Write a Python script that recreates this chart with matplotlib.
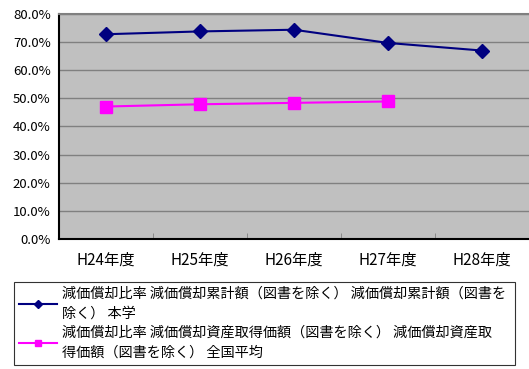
import numpy as np
import matplotlib

matplotlib.use('Agg')
import matplotlib.pyplot as plt

plt.rcParams['font.family'] = ['Noto Sans CJK JP', 'DejaVu Sans']

categories = ['H24年度', 'H25年度', 'H26年度', 'H27年度', 'H28年度']
own_rate = [72.8, 73.8, 74.4, 69.7, 67.0]
national_avg = [47.1, 47.9, 48.4, 48.9]
own_label = '減価償却比率 減価償却累計額（図書を除く） 減価償却累計額（図書を\n除く） 本学'
nat_label = '減価償却比率 減価償却資産取得価額（図書を除く） 減価償却資産取\n得価額（図書を除く） 全国平均'
yticks = np.arange(0, 90, 10)

fig = plt.figure(figsize=(5.29, 3.69), dpi=100)
ax = fig.add_axes([0.1115, 0.3523, 0.8885, 0.6098])
ax.set_facecolor('#C0C0C0')

x = np.arange(len(categories))
ax.plot(x, own_rate, color='#000080', lw=1.5, marker='D', ms=7,
        label=own_label)
ax.plot(x[:len(national_avg)], national_avg, color='#FF00FF', lw=1.5,
        marker='s', ms=8, label=nat_label)

ax.set_xlim(-0.5, len(categories) - 0.5)
ax.set_ylim(0, 80)
ax.set_yticks(yticks)
ax.set_yticklabels(['%.1f%%' % v for v in yticks], fontsize=9.5)
ax.set_xticks(x)
ax.set_xticklabels(categories, fontsize=11)
ax.set_xticks(np.arange(0.5, len(categories) - 0.5, 1), minor=True)
ax.tick_params(axis='x', which='major', length=0, pad=9)
ax.tick_params(axis='x', which='minor', length=4, direction='in', color='#808080')
ax.tick_params(axis='y', length=0, pad=6)
ax.grid(axis='y', color='#808080', lw=1)
ax.set_axisbelow(True)

for s in ['left', 'bottom']:
    ax.spines[s].set_linewidth(1.5)
    ax.spines[s].set_color('black')
ax.spines['top'].set_color('#808080')
ax.spines['top'].set_linewidth(1.5)
ax.spines['right'].set_visible(False)

leg = fig.legend(loc='lower left', bbox_to_anchor=(0.026, 0.011, 0.948, 0.222),
                 mode='expand', fontsize=10.2, frameon=True, fancybox=False,
                 edgecolor='black', handlelength=2.7, borderpad=0.35,
                 borderaxespad=0, labelspacing=0.3, handletextpad=0.35,
                 markerscale=0.6)
leg.get_frame().set_linewidth(0.8)
for t in leg.get_texts():
    t.set_linespacing(1.6)

fig.savefig('out.png', dpi=100)
